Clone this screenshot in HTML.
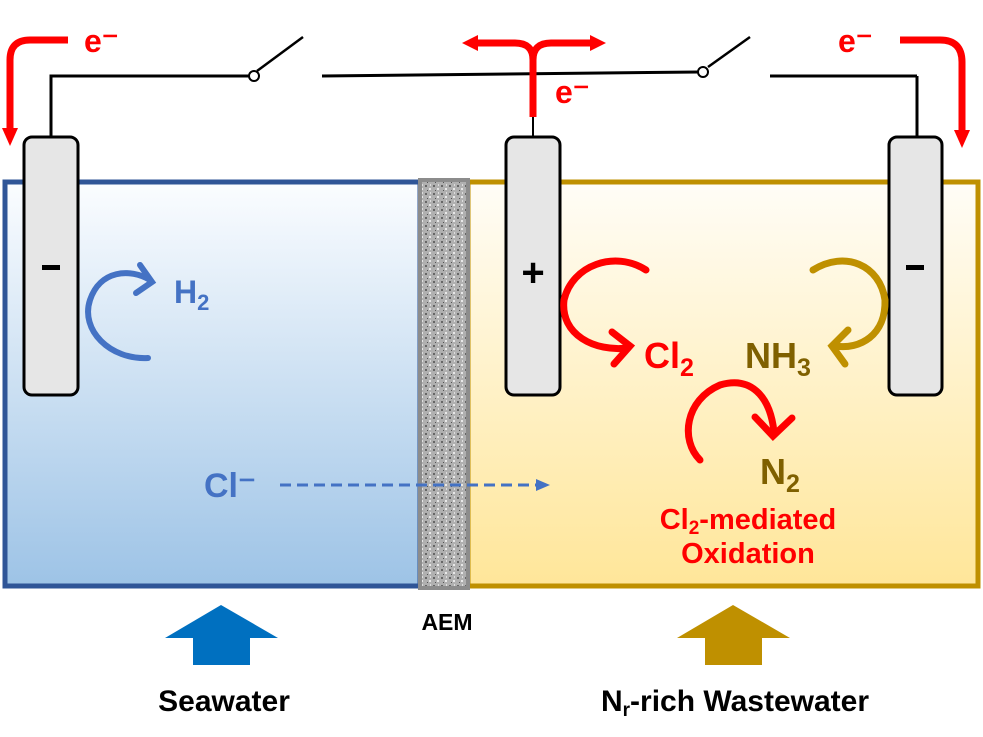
<!DOCTYPE html><html><head><style>body{margin:0;background:#fff}svg{display:block}text{font-family:"Liberation Sans",Arial,sans-serif;font-weight:bold}</style></head><body>
<svg width="983" height="737" viewBox="0 0 983 737" xmlns="http://www.w3.org/2000/svg">
<defs>
<linearGradient id="gb" x1="0" y1="0" x2="0" y2="1"><stop offset="0" stop-color="#fbfdff"/><stop offset="1" stop-color="#9dc3e6"/></linearGradient>
<linearGradient id="gy" x1="0" y1="0" x2="0" y2="1"><stop offset="0" stop-color="#fffdf7"/><stop offset="1" stop-color="#ffe699"/></linearGradient>
<pattern id="sp" width="8" height="8" patternUnits="userSpaceOnUse"><rect width="8" height="8" fill="#b0b0b0"/><rect x="1" y="1" width="2" height="2" fill="#666"/><rect x="5" y="4" width="2" height="2" fill="#e8e8e8"/><rect x="3" y="6" width="1" height="1" fill="#555"/><rect x="6" y="0" width="1" height="2" fill="#ddd"/></pattern>
</defs>
<rect x="5" y="182" width="415" height="404" fill="url(#gb)" stroke="#2f5597" stroke-width="5"/>
<rect x="468" y="182" width="510" height="404" fill="url(#gy)" stroke="#bf9000" stroke-width="5"/>
<rect x="420" y="180" width="48" height="408" fill="url(#sp)" stroke="#8c8c8c" stroke-width="4"/>
<g stroke="#000" stroke-width="3" fill="none">
<polyline points="51,137 51,76 250,76"/>
<line x1="322" y1="76" x2="699" y2="72"/>
<line x1="770" y1="76" x2="917" y2="76"/><line x1="917" y1="76" x2="917" y2="137"/>
<line x1="533" y1="117" x2="533" y2="137" stroke-width="2"/>
<line x1="257" y1="71" x2="303" y2="37" stroke-width="2.5"/>
<line x1="708" y1="67" x2="750" y2="37" stroke-width="2.5"/>
</g>
<circle cx="254" cy="76" r="5" fill="#fff" stroke="#000" stroke-width="2"/>
<circle cx="703" cy="72" r="5" fill="#fff" stroke="#000" stroke-width="2"/>
<g fill="#e6e6e6" stroke="#000" stroke-width="3">
<rect x="24" y="137" width="54" height="258" rx="8"/>
<rect x="506" y="137" width="54" height="258" rx="8"/>
<rect x="889" y="137" width="53" height="258" rx="8"/>
</g>
<rect x="42" y="265" width="18" height="5" fill="#000"/>
<rect x="906" y="265" width="18" height="5" fill="#000"/>
<text x="533" y="286" font-size="40" text-anchor="middle">+</text>
<g stroke="#ff0000" stroke-width="7" fill="none">
<path d="M68,40 H30 Q10,40 10,60 V132"/>
<path d="M900,40 H940 Q962,40 962,62 V134"/>
<path d="M533,117 V60 Q533,43 515,43 H475"/>
<path d="M533,60 Q533,43 551,43 H592"/>
</g>
<g fill="#ff0000">
<polygon points="2,128 18,128 10,146"/>
<polygon points="954,130 970,130 962,148"/>
<polygon points="478,35 478,51 462,43"/>
<polygon points="590,35 590,51 606,43"/>
</g>
<text x="84" y="52" font-size="32" fill="#ff0000">e⁻</text>
<text x="838" y="52" font-size="32" fill="#ff0000">e⁻</text>
<text x="555" y="103" font-size="32" fill="#ff0000">e⁻</text>
<path d="M148,358 C110,360 80,330 90,300 C100,270 130,268 150,280" fill="none" stroke="#4472c4" stroke-width="6" stroke-linecap="round"/>
<polyline points="140,265 152,282 136,293" fill="none" stroke="#4472c4" stroke-width="6" stroke-linecap="round"/>
<text x="174" y="303" font-size="32" fill="#4472c4">H<tspan font-size="22" dy="7">2</tspan></text>
<text x="204" y="497" font-size="34" fill="#4472c4">Cl⁻</text>
<line x1="280" y1="485" x2="538" y2="485" stroke="#4472c4" stroke-width="3" stroke-dasharray="11,6"/>
<polygon points="536,479 550,485 536,491" fill="#4472c4"/>
<path d="M646,270 C615,250 572,265 564,300 C560,335 595,352 628,348" fill="none" stroke="#ff0000" stroke-width="7" stroke-linecap="round"/>
<polyline points="612,332 630,346 614,364" fill="none" stroke="#ff0000" stroke-width="7" stroke-linecap="round"/>
<text x="644" y="368" font-size="36" fill="#ff0000">Cl<tspan font-size="25" dy="8">2</tspan></text>
<text x="745" y="368" font-size="36" fill="#7f6000">NH<tspan font-size="25" dy="8">3</tspan></text>
<path d="M813,270 C845,250 880,265 885,300 C886,335 860,350 835,346" fill="none" stroke="#bf9000" stroke-width="7" stroke-linecap="round"/>
<polyline points="848,330 832,346 845,364" fill="none" stroke="#bf9000" stroke-width="7" stroke-linecap="round"/>
<path d="M700,460 C680,440 685,400 720,385 C750,376 770,395 774,432" fill="none" stroke="#ff0000" stroke-width="7" stroke-linecap="round"/>
<polyline points="755,417 773,436 792,418" fill="none" stroke="#ff0000" stroke-width="7" stroke-linecap="round"/>
<text x="760" y="484" font-size="36" fill="#7f6000">N<tspan font-size="25" dy="8">2</tspan></text>
<text x="748" y="529" font-size="29" fill="#ff0000" text-anchor="middle">Cl<tspan font-size="19" dy="5">2</tspan><tspan dy="-5">-mediated</tspan></text>
<text x="748" y="563" font-size="29" fill="#ff0000" text-anchor="middle">Oxidation</text>
<polygon points="193,665 250,665 250,638 278,638 221,605 165,638 193,638" fill="#0070c0"/>
<polygon points="705,665 762,665 762,638 790,638 733,605 677,638 705,638" fill="#bf9000"/>
<text x="447" y="630" font-size="23" text-anchor="middle" fill="#000">AEM</text>
<text x="224" y="711" font-size="30" text-anchor="middle" fill="#000">Seawater</text>
<text x="735" y="711" font-size="30" fill="#000" text-anchor="middle">N<tspan font-size="19" dy="5">r</tspan><tspan dy="-5">-rich Wastewater</tspan></text>
</svg>
</body></html>
